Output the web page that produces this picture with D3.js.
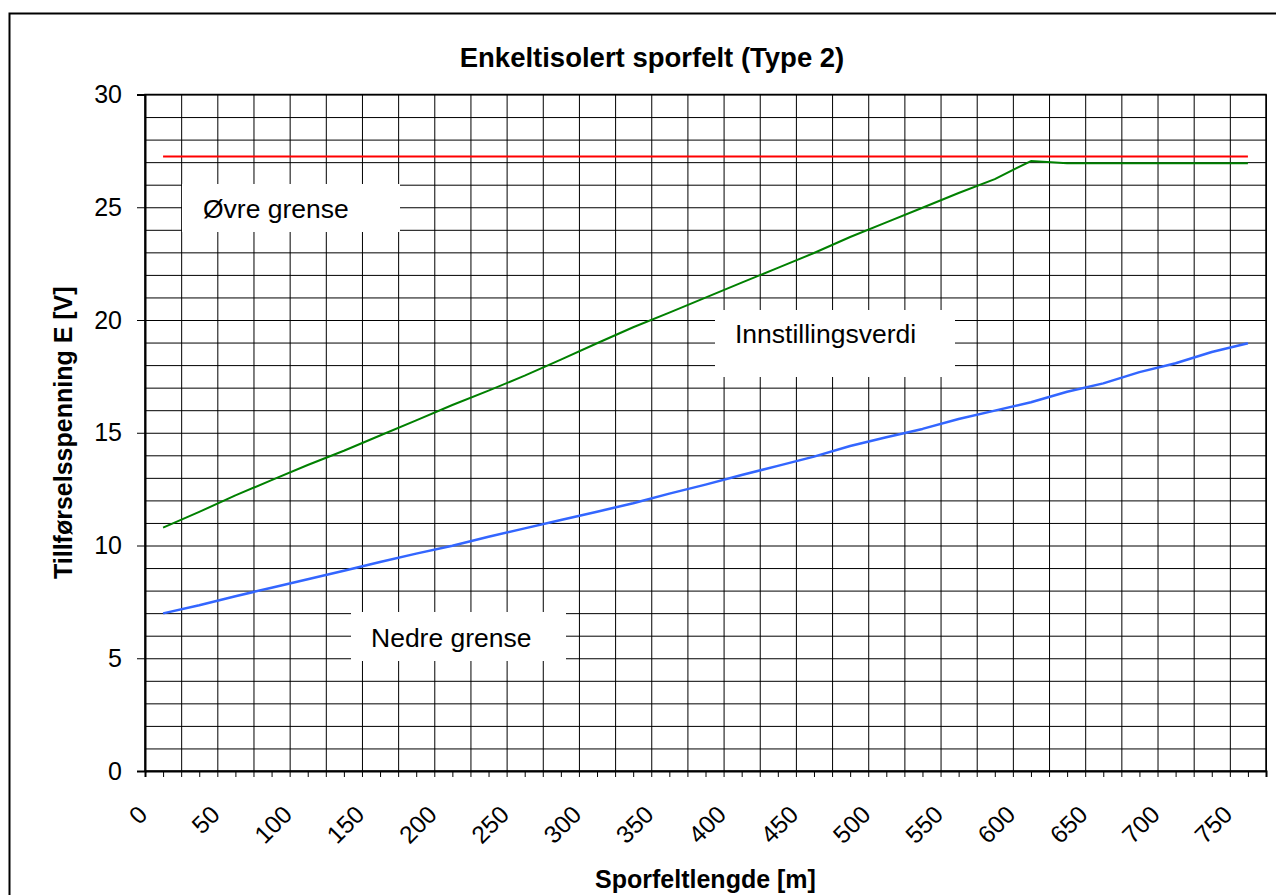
<!DOCTYPE html>
<html>
<head>
    <title>Enkeltisolert sporfelt (Type 2)</title>
    <script src="https://d3js.org/d3.v7.min.js"></script>
    <style>
        body { margin: 0; background: #fff; }
        text { font-family: "Liberation Sans", Arial, sans-serif; fill: #000; }
        .grid line { stroke: #000; stroke-width: 1; }
        .grid path { display: none; }
        .axis path, .axis line { stroke: #000; }
        .series { fill: none; stroke-linejoin: round; }
    </style>
</head>
<body>
    <svg width="1276" height="895"></svg>

    <script>
        // track lengths [m] of the data points
        const lengths = [12.5, 37.5, 62.5, 87.5, 112.5, 137.5, 162.5, 187.5, 212.5, 237.5,
                         262.5, 287.5, 312.5, 337.5, 362.5, 387.5, 412.5, 437.5, 462.5, 487.5,
                         512.5, 537.5, 562.5, 587.5, 612.5, 637.5, 662.5, 687.5, 712.5, 737.5, 762.5];

        // upper limit (Øvre grense)
        const upper = [27.25, 27.25, 27.25, 27.25, 27.25, 27.25, 27.25, 27.25, 27.25, 27.25,
                       27.25, 27.25, 27.25, 27.25, 27.25, 27.25, 27.25, 27.25, 27.25, 27.25,
                       27.25, 27.25, 27.25, 27.25, 27.25, 27.25, 27.25, 27.25, 27.25, 27.25, 27.25];

        // setting value (Innstillingsverdi)
        const setting = [10.79, 11.49, 12.22, 12.9, 13.57, 14.2, 14.88, 15.55, 16.23, 16.87,
                         17.53, 18.24, 18.97, 19.68, 20.33, 20.99, 21.66, 22.31, 22.97, 23.68,
                         24.33, 24.98, 25.63, 26.25, 27.05, 26.95, 26.95, 26.95, 26.95, 26.95, 26.95];

        // lower limit (Nedre grense)
        const lower = [6.99, 7.35, 7.75, 8.13, 8.5, 8.88, 9.27, 9.64, 9.99, 10.39,
                       10.76, 11.13, 11.5, 11.87, 12.3, 12.7, 13.13, 13.53, 13.94, 14.41,
                       14.8, 15.17, 15.61, 15.98, 16.35, 16.82, 17.19, 17.69, 18.08, 18.58, 18.97];

        const xTickLabels = [0, 50, 100, 150, 200, 250, 300, 350, 400, 450, 500, 550, 600, 650, 700, 750];
        const yTickLabels = [0, 5, 10, 15, 20, 25, 30];

        const svg = d3.select("svg");

        const plotLeft = 145, plotRight = 1266, plotTop = 94.5, plotBottom = 771;

        const x = d3.scaleLinear().domain([0, 775]).range([plotLeft, plotRight]);
        const y = d3.scaleLinear().domain([0, 30]).range([plotBottom, plotTop]);

        // outer chart frame
        svg.append("rect")
            .attr("x", 9.5).attr("y", 13.5)
            .attr("width", 1400).attr("height", 1000)
            .attr("fill", "#fff").attr("stroke", "#000").attr("stroke-width", 2);

        // grid lines
        svg.append("g")
            .attr("class", "grid")
            .attr("transform", `translate(${plotLeft},0)`)
            .call(d3.axisLeft(y).tickValues(d3.range(0, 31)).tickSize(-(plotRight - plotLeft)).tickFormat(""));

        svg.append("g")
            .attr("class", "grid")
            .attr("transform", `translate(0,${plotBottom})`)
            .call(d3.axisBottom(x).tickValues(d3.range(0, 776, 25)).tickSize(-(plotBottom - plotTop)).tickFormat(""));

        // white label boxes covering the grid
        const boxes = [
            { x0: 182, y0: 184, x1: 400, y1: 232, tx: 203, ty: 218, label: "Øvre grense" },
            { x0: 715, y0: 310, x1: 955, y1: 377, tx: 735, ty: 343, label: "Innstillingsverdi" },
            { x0: 351, y0: 612, x1: 566, y1: 661, tx: 371, ty: 647, label: "Nedre grense" }
        ];

        svg.append("g").selectAll("rect")
            .data(boxes)
            .enter().append("rect")
            .attr("x", d => d.x0).attr("y", d => d.y0)
            .attr("width", d => d.x1 - d.x0).attr("height", d => d.y1 - d.y0)
            .attr("fill", "#fff");

        svg.append("g").selectAll("text")
            .data(boxes)
            .enter().append("text")
            .attr("x", d => d.tx).attr("y", d => d.ty)
            .style("font-size", "26.5px")
            .text(d => d.label);

        // plot frame
        svg.append("rect")
            .attr("x", plotLeft).attr("y", plotTop)
            .attr("width", plotRight - plotLeft).attr("height", plotBottom - plotTop)
            .attr("fill", "none").attr("stroke", "#000").attr("stroke-width", 1.5);

        // y axis
        const yAxis = svg.append("g")
            .attr("class", "axis")
            .attr("transform", `translate(${plotLeft},0)`)
            .call(d3.axisLeft(y).tickValues(yTickLabels).tickSize(8).tickPadding(15));
        yAxis.select(".domain").attr("stroke-width", 2);
        yAxis.selectAll("text").style("font-size", "25px");

        // x axis: minor ticks every 12.5 m
        const xAxis = svg.append("g")
            .attr("class", "axis")
            .attr("transform", `translate(0,${plotBottom})`)
            .call(d3.axisBottom(x).tickValues(d3.range(0, 776, 12.5)).tickSize(6).tickFormat(""));
        xAxis.select(".domain").attr("stroke-width", 2);

        // rotated x tick labels
        svg.append("g").selectAll("text")
            .data(xTickLabels)
            .enter().append("text")
            .attr("transform", d => `translate(${x(d) + 4},${plotBottom + 45}) rotate(-45)`)
            .attr("text-anchor", "end")
            .style("font-size", "24.5px")
            .text(d => d);

        // series
        const line = d3.line()
            .x((d, i) => x(lengths[i]))
            .y(d => y(d));

        svg.append("path").attr("class", "series")
            .attr("d", line(upper)).attr("stroke", "#ff0000").attr("stroke-width", 2);
        svg.append("path").attr("class", "series")
            .attr("d", line(setting)).attr("stroke", "#008000").attr("stroke-width", 2);
        svg.append("path").attr("class", "series")
            .attr("d", line(lower)).attr("stroke", "#3366ff").attr("stroke-width", 2.5);

        // titles
        svg.append("text")
            .attr("x", 652).attr("y", 67)
            .attr("text-anchor", "middle")
            .style("font-size", "27.5px").style("font-weight", "bold")
            .text("Enkeltisolert sporfelt (Type 2)");

        svg.append("text")
            .attr("x", (plotLeft + plotRight) / 2).attr("y", 888)
            .attr("text-anchor", "middle")
            .style("font-size", "25px").style("font-weight", "bold")
            .text("Sporfeltlengde [m]");

        svg.append("text")
            .attr("transform", `translate(72,${(plotTop + plotBottom) / 2}) rotate(-90)`)
            .attr("text-anchor", "middle")
            .style("font-size", "25px").style("font-weight", "bold")
            .text("Tillførselsspenning E [V]");
    </script>
</body>
</html>
